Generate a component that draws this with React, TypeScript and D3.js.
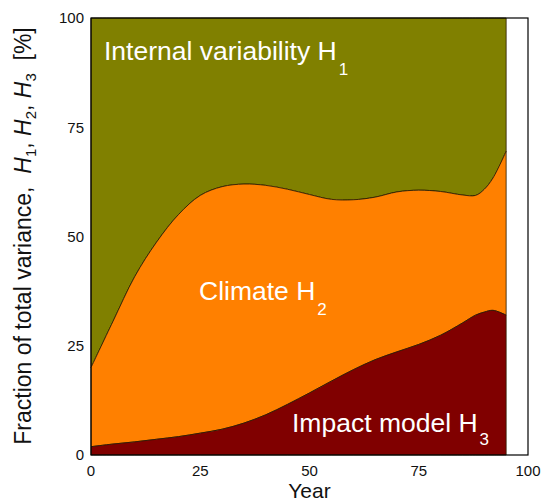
import React from "react";
import * as d3 from "d3";

const years = [0, 5, 10, 15, 20, 25, 30, 35, 40, 45, 50, 55, 60, 65, 70, 75, 80, 85, 88, 90, 92, 95];
// cumulative H3 (impact model)
const impactTop = [1.9, 2.5, 3.0, 3.6, 4.2, 5.0, 5.9, 7.3, 9.2, 11.6, 14.2, 16.9, 19.5, 21.8, 23.6, 25.3, 27.4, 30.2, 32.0, 32.7, 33.1, 32.0];
// cumulative H3 + H2 (climate)
const climateTop = [20, 30.5, 40.8, 48.7, 55.0, 59.4, 61.4, 62, 61.7, 60.8, 59.6, 58.5, 58.4, 59, 60.2, 60.6, 60.3, 59.5, 59.4, 60.8, 63.4, 69.5];
const xTicks = [0, 25, 50, 75, 100];
const yTicks = [0, 25, 50, 75, 100];

const W = 545, H = 503;
const ml = 91, mr = 528, mt = 18, mb = 455;

export default function App() {
  const x = d3.scaleLinear().domain([0, 100]).range([ml, mr]);
  const y = d3.scaleLinear().domain([0, 100]).range([mb, mt]);
  const pts = years.map((yr, i) => ({ yr, a: impactTop[i], b: climateTop[i] }));
  const curve = d3.curveCatmullRom.alpha(0.5);
  const areaH1 = d3.area<any>().x(d => x(d.yr)).y0(d => y(d.b)).y1(() => y(100)).curve(curve);
  const areaH2 = d3.area<any>().x(d => x(d.yr)).y0(d => y(d.a)).y1(d => y(d.b)).curve(curve);
  const areaH3 = d3.area<any>().x(d => x(d.yr)).y0(() => y(0)).y1(d => y(d.a)).curve(curve);
  const font = "Liberation Sans, Arial, sans-serif";
  const stroke = "#2a1a00";
  return (
    <svg width={W} height={H} style={{ position: "absolute", left: 0, top: 0 }} fontFamily={font}>
      <rect x={0} y={0} width={W} height={H} fill="#fff" />
      <path d={areaH1(pts) || ""} fill="#808000" stroke={stroke} strokeWidth={0.8} />
      <path d={areaH2(pts) || ""} fill="#ff8000" stroke={stroke} strokeWidth={0.8} />
      <path d={areaH3(pts) || ""} fill="#800000" stroke={stroke} strokeWidth={0.8} />
      <rect x={ml} y={mt} width={mr - ml} height={mb - mt} fill="none" stroke="#000" strokeWidth={1.2} />
      {yTicks.map(t => (
        <text key={"y" + t} x={ml - 7} y={y(t)} dy="0.36em" textAnchor="end" fontSize={15} fill="#111">{t}</text>
      ))}
      {xTicks.map(t => (
        <text key={"x" + t} x={x(t)} y={476} textAnchor="middle" fontSize={15} fill="#111">{t}</text>
      ))}
      <text x={(ml + mr) / 2} y={498} textAnchor="middle" fontSize={21} fill="#111">Year</text>
      <text transform={`translate(31,236) rotate(-90)`} textAnchor="middle" fontSize={23} fill="#111">
        Fraction of total variance,{"\u00a0\u00a0"}
        <tspan fontStyle="italic">H</tspan><tspan fontSize={15} dy={5}>1</tspan><tspan dy={-5}>,{"\u00a0"}</tspan>
        <tspan fontStyle="italic">H</tspan><tspan fontSize={15} dy={5}>2</tspan><tspan dy={-5}>,{"\u00a0"}</tspan>
        <tspan fontStyle="italic">H</tspan><tspan fontSize={15} dy={5}>3</tspan><tspan dy={-5}>{"\u00a0\u00a0"}[%]</tspan>
      </text>
      <text x={104} y={60} fontSize={26.5} fill="#fff">
        Internal variability H<tspan fontSize={17} dx={2} dy={15}>1</tspan>
      </text>
      <text x={199} y={300} fontSize={26.5} fill="#fff">
        Climate H<tspan fontSize={17} dx={2} dy={15}>2</tspan>
      </text>
      <text x={292} y={432} fontSize={26.5} fill="#fff">
        Impact model H<tspan fontSize={17} dx={2} dy={13}>3</tspan>
      </text>
    </svg>
  );
}
